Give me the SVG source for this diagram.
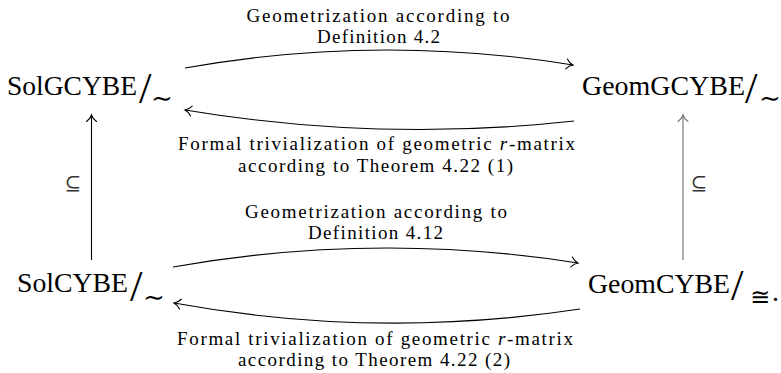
<svg xmlns="http://www.w3.org/2000/svg" width="781" height="373" viewBox="0 0 781 373">
<style>
.n{font-family:"Liberation Serif",serif;font-size:28px;fill:#000}
.sl{font-family:"Liberation Serif",serif;font-size:45px;fill:#000}
.m{font-family:"DejaVu Serif","DejaVu Sans",serif;fill:#000}
.l{font-family:"Liberation Serif",serif;font-size:19px;fill:#000;text-anchor:middle}
.c{fill:none;stroke:#000;stroke-width:1.1}
.g{fill:none;stroke:#7a7a7a;stroke-width:1.2}
.sub{font-family:"DejaVu Serif","DejaVu Sans",serif;font-size:20px;fill:#333;text-anchor:middle}
</style>
<defs>
<marker id="ah" markerUnits="userSpaceOnUse" viewBox="-8 -7 10 14" refX="0" refY="0" markerWidth="10" markerHeight="14" orient="auto">
<path d="M-6.5,-5 C-4.5,-2 -1.5,-0.5 0,0 C-1.5,0.5 -4.5,2 -6.5,5" fill="none" stroke="#000" stroke-width="1.1" stroke-linecap="round"/>
</marker>
<marker id="ahg" markerUnits="userSpaceOnUse" viewBox="-8 -7 10 14" refX="0" refY="0" markerWidth="10" markerHeight="14" orient="auto">
<path d="M-6.5,-5 C-4.5,-2 -1.5,-0.5 0,0 C-1.5,0.5 -4.5,2 -6.5,5" fill="none" stroke="#7a7a7a" stroke-width="1.2" stroke-linecap="round"/>
</marker>
</defs>

<g id="node-solgcybe">
<text class="n" x="7" y="95" textLength="130" lengthAdjust="spacingAndGlyphs">SolGCYBE</text>
<text class="sl" x="139" y="103">/</text>
<text class="m" x="151" y="107" font-size="26">∼</text>
</g>
<g id="node-geomgcybe">
<text class="n" x="582" y="95" textLength="163" lengthAdjust="spacingAndGlyphs">GeomGCYBE</text>
<text class="sl" x="745" y="103">/</text>
<text class="m" x="759" y="107" font-size="26">∼</text>
</g>
<g id="node-solcybe">
<text class="n" x="17" y="292" textLength="111" lengthAdjust="spacingAndGlyphs">SolCYBE</text>
<text class="sl" x="130" y="301">/</text>
<text class="m" x="143" y="306" font-size="26">∼</text>
</g>
<g id="node-geomcybe">
<text class="n" x="588" y="293" textLength="142" lengthAdjust="spacingAndGlyphs">GeomCYBE</text>
<text class="sl" x="731" y="300">/</text>
<text class="m" x="750" y="305" font-size="24">≅</text>
<text class="n" x="772" y="301" font-size="24">.</text>
</g>

<g id="connectors">
<path class="c" d="M185,68 Q379,33.5 573,65" marker-end="url(#ah)"/>
<path class="c" d="M574,121 Q380,142.5 185,110" marker-end="url(#ah)"/>
<path class="c" d="M173,267 Q376,231 578,263" marker-end="url(#ah)"/>
<path class="c" d="M580,309 Q377,340 174,303" marker-end="url(#ah)"/>
<path class="c" d="M91.5,260 L91.5,115" marker-end="url(#ah)"/>
<path class="g" d="M683,260 L683,115" marker-end="url(#ahg)"/>
<text class="sub" x="73" y="190">⊆</text>
<text class="sub" x="699" y="190">⊆</text>
<text class="l" x="378" y="21.5" textLength="263" lengthAdjust="spacing">Geometrization according to</text>
<text class="l" x="378.5" y="43" textLength="123" lengthAdjust="spacing">Definition 4.2</text>
<text class="l" x="376.5" y="150" textLength="397" lengthAdjust="spacing">Formal trivialization of geometric <tspan font-style="italic">r</tspan>-matrix</text>
<text class="l" x="375.5" y="171.5" textLength="275" lengthAdjust="spacing">according to Theorem 4.22 (1)</text>
<text class="l" x="376" y="217.5" textLength="262" lengthAdjust="spacing">Geometrization according to</text>
<text class="l" x="375.5" y="239" textLength="135" lengthAdjust="spacing">Definition 4.12</text>
<text class="l" x="375" y="344.5" textLength="396" lengthAdjust="spacing">Formal trivialization of geometric <tspan font-style="italic">r</tspan>-matrix</text>
<text class="l" x="374" y="366" textLength="272" lengthAdjust="spacing">according to Theorem 4.22 (2)</text>
</g>
</svg>
